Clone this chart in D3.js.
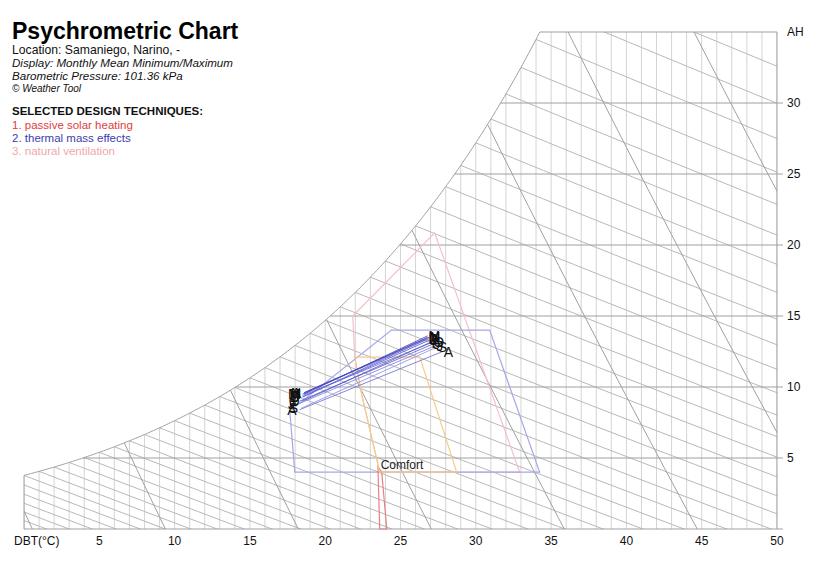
<!DOCTYPE html>
<html>
<head>
<meta charset="utf-8">
<script src="https://cdn.jsdelivr.net/npm/d3@7"></script>
<style>
  html, body { margin: 0; padding: 0; background: #fff; }
  svg text { font-family: Arial, "Liberation Sans", sans-serif; }
</style>
</head>
<body>
<svg id="chart" width="825" height="581"></svg>
<script>
// ---------------- DATA ----------------
const pressure = 101.36; // kPa
const months = ["J","F","M","A","M","J","J","A","S","O","N","D"];
const minDBT = [18.5, 18.5, 18.6, 18.6, 18.5, 18.3, 18.2, 18.3, 18.4, 18.5, 18.6, 18.5];
const minAH  = [9.3, 9.4, 9.5, 9.6, 9.5, 9.0, 8.8, 8.4, 8.5, 9.0, 9.6, 9.3];
const maxDBT = [26.9, 27.0, 26.8, 26.9, 26.8, 27.1, 27.3, 27.8, 27.4, 27.1, 26.9, 26.8];
const maxAH  = [13.3, 13.1, 13.6, 13.4, 13.5, 13.0, 12.9, 12.5, 12.8, 13.2, 13.5, 13.4];

const xTicks = [5, 10, 15, 20, 25, 30, 35, 40, 45, 50];
const yTicks = [5, 10, 15, 20, 25, 30];
const specVolumes = [0.775, 0.8, 0.825, 0.85, 0.875, 0.9, 0.925, 0.95];

// design zones as [DBT, AH] vertices
const zoneNatVent = [[21.83,15.0],[27.27,20.85],[32.91,4.01],[23.62,4.01],[22.43,9.44],[21.96,12.11]];
const zoneThermalMass = [[24.40,14.01],[30.92,14.01],[34.24,4.01],[17.98,4.01],[17.65,8.31]];
const zoneComfort = [[21.96,12.11],[26.28,12.11],[28.73,4.01],[23.62,4.01],[22.43,9.44]];
const zoneSolar = [[23.50,4.37],[23.62,0],[24.09,0],[23.75,4.01]];

// ---------------- PSYCHRO ----------------
function pws(T){
  const Tk = T + 273.15;
  return Math.exp(-5.8002206e3/Tk + 1.3914993 - 4.8640239e-2*Tk + 4.1764768e-5*Tk*Tk
    - 1.4452093e-8*Tk*Tk*Tk + 6.5459673*Math.log(Tk)) / 1000;
}
function ws(T){ const p = pws(T); return 621.98*p/(pressure - p); }
function tSat(w){ let lo=-20, hi=60; for(let i=0;i<60;i++){ const m=(lo+hi)/2; if(ws(m)<w) lo=m; else hi=m; } return (lo+hi)/2; }
function wWetBulb(T, twb){
  const W = ws(twb)/1000;
  return 1000*((2501 - 2.326*twb)*W - 1.006*(T - twb)) / (2501 + 1.86*T - 4.186*twb);
}
function wVol(T, v){ return 1000*((v*pressure/(0.287*(T+273.15))) - 1)/1.6078; }

// ---------------- SCALES ----------------
const x = d3.scaleLinear().domain([0,50]).range([24,777]);
const y = d3.scaleLinear().domain([0,35]).range([529,32]);
const svg = d3.select("#chart");
const line = d3.line().x(d=>x(d[0])).y(d=>y(d[1]));

const tTop = tSat(35);
const satPts = d3.range(0, tTop, 0.1).map(t=>[t, ws(t)]).concat([[tTop,35]]);

// clip
const clipPts = satPts.concat([[50,35],[50,0],[0,0]]);
svg.append("clipPath").attr("id","clip").append("path").attr("d", line(clipPts)+"Z");
const g = svg.append("g").attr("clip-path","url(#clip)");

// DBT vertical lines
d3.range(0, 51, 1).forEach(t=>{
  g.append("line").attr("x1",x(t)).attr("x2",x(t)).attr("y1",y(0)).attr("y2",y(Math.min(ws(t),35)))
   .attr("stroke","#d4d4d4").attr("stroke-width",1);
});
// wet bulb lines
d3.range(-8, 38, 1).forEach(twb=>{
  const pts = d3.range(twb, 50.5, 0.5).map(t=>[t, wWetBulb(t, twb)]);
  g.append("path").attr("d", line(pts)).attr("fill","none").attr("stroke","#b8b8b8").attr("stroke-width",1);
});
// specific volume lines
specVolumes.forEach(v=>{
  const pts = d3.range(-2, 52, 0.5).map(t=>[t, wVol(t, v)]);
  g.append("path").attr("d", line(pts)).attr("fill","none").attr("stroke","#a0a0a0").attr("stroke-width",1);
});

// AH horizontal lines
yTicks.concat([35]).forEach(w=>{
  svg.append("line").attr("x1",x(Math.min(tSat(w),50))).attr("x2", w===35 ? x(50) : x(50)+6)
    .attr("y1",y(w)).attr("y2",y(w)).attr("stroke","#a0a0a0").attr("stroke-width",1);
});
// borders
svg.append("line").attr("x1",x(0)).attr("x2",x(50)+6).attr("y1",y(0)).attr("y2",y(0)).attr("stroke","#a0a0a0");
svg.append("line").attr("x1",x(50)).attr("x2",x(50)).attr("y1",y(0)).attr("y2",y(35)).attr("stroke","#a0a0a0");
svg.append("line").attr("x1",x(0)).attr("x2",x(0)).attr("y1",y(0)).attr("y2",y(ws(0))).attr("stroke","#a0a0a0");
// saturation curve
svg.append("path").attr("d", line(satPts)).attr("fill","none").attr("stroke","#a0a0a0").attr("stroke-width",1);

// zones
function zone(pts, color, w){
  svg.append("path").attr("d", line(pts)+"Z").attr("fill","none").attr("stroke",color).attr("stroke-width",w||1.2);
}
zone(zoneNatVent, "#f6c0c8");
zone(zoneThermalMass, "#a4a8e8");
zone(zoneSolar, "#e88080");
zone(zoneComfort, "#f5cc88");
svg.append("text").attr("x", x(25.1)).attr("y", y(4.01)-3).attr("text-anchor","middle")
  .attr("font-size","12px").attr("fill","#222").text("Comfort");

// monthly lines
const lineColors = ["#5a5ad0","#6a6ad8","#4848c0","#7a7ae0","#5050c8","#6060d0","#8080e0","#7070d8","#9090e4","#5858cc","#4040b8","#6868d4"];
months.forEach((m,i)=>{
  svg.append("line").attr("x1",x(minDBT[i])).attr("y1",y(minAH[i])).attr("x2",x(maxDBT[i])).attr("y2",y(maxAH[i]))
    .attr("stroke",lineColors[i]).attr("stroke-width",1).attr("stroke-opacity",0.85);
});
months.forEach((m,i)=>{
  svg.append("text").attr("x",x(minDBT[i])-3).attr("y",y(minAH[i])+5).attr("text-anchor","end")
    .attr("font-size","14px").attr("fill","#111").text(m);
  svg.append("text").attr("x",x(maxDBT[i])+1).attr("y",y(maxAH[i])+5).attr("text-anchor","start")
    .attr("font-size","14px").attr("fill","#111").text(m);
});

// axes labels
xTicks.forEach(t=>{
  svg.append("text").attr("x",x(t)).attr("y",545).attr("text-anchor","middle").attr("font-size","12px").attr("fill","#111").text(t);
});
svg.append("text").attr("x",14).attr("y",545).attr("font-size","12px").attr("fill","#111").text("DBT(°C)");
yTicks.forEach(w=>{
  svg.append("text").attr("x",787).attr("y",y(w)+4).attr("font-size","12px").attr("fill","#111").text(w);
});
svg.append("text").attr("x",787).attr("y",y(35)+4).attr("font-size","12px").attr("fill","#111").text("AH");

// header
const hdr = svg.append("g");
hdr.append("text").attr("x",12).attr("y",39).attr("font-size","23px").attr("font-weight","bold").attr("fill","#000").text("Psychrometric Chart");
hdr.append("text").attr("x",12).attr("y",54).attr("font-size","12.2px").attr("fill","#111").text("Location: Samaniego, Narino, -");
hdr.append("text").attr("x",12).attr("y",67).attr("font-size","11.6px").attr("font-style","italic").attr("fill","#111").text("Display: Monthly Mean Minimum/Maximum");
hdr.append("text").attr("x",12).attr("y",80).attr("font-size","11.6px").attr("font-style","italic").attr("fill","#111").text("Barometric Pressure: 101.36 kPa");
hdr.append("text").attr("x",12).attr("y",92).attr("font-size","10px").attr("font-style","italic").attr("fill","#111").text("© Weather Tool");
hdr.append("text").attr("x",12).attr("y",115).attr("font-size","11.5px").attr("font-weight","bold").attr("fill","#111").text("SELECTED DESIGN TECHNIQUES:");
hdr.append("text").attr("x",12).attr("y",129).attr("font-size","11.5px").attr("fill","#e03c3c").text("1. passive solar heating");
hdr.append("text").attr("x",12).attr("y",142).attr("font-size","11.5px").attr("fill","#3c3cb0").text("2. thermal mass effects");
hdr.append("text").attr("x",12).attr("y",155).attr("font-size","11.5px").attr("fill","#f0a8a8").text("3. natural ventilation");
</script>
</body>
</html>
